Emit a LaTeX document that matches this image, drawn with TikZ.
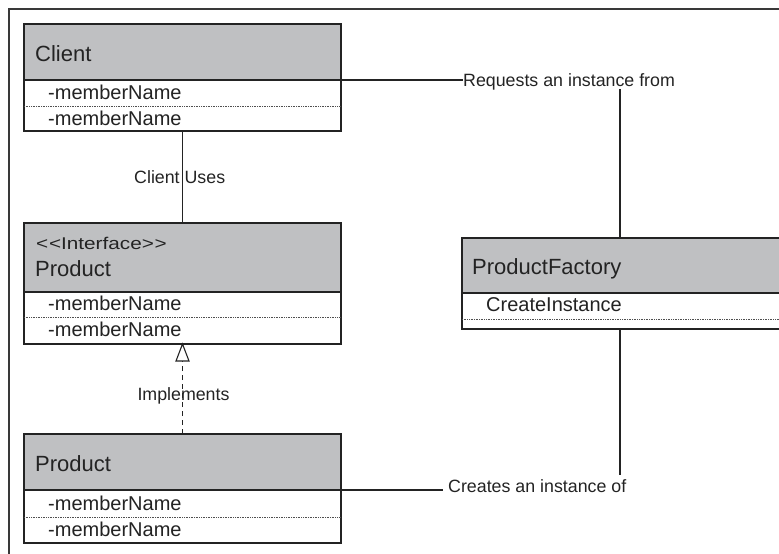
\documentclass[tikz,border=0pt]{standalone}
\usepackage{fontspec}
\usepackage{graphicx}
\setmainfont{Liberation Sans}
\usetikzlibrary{arrows.meta}
\definecolor{hdrgray}{RGB}{191,192,194}
\definecolor{ln}{RGB}{35,35,35}
\begin{document}
\begin{tikzpicture}[x=1pt,y=-1pt,
  boxbody/.style={draw=ln, line width=1.4pt, fill=white, anchor=north west, inner sep=0pt, outer sep=0pt},
  boxhdr/.style={draw=ln, line width=1.4pt, fill=hdrgray, anchor=north west, inner sep=0pt, outer sep=0pt},
  sepline/.style={draw=ln!80, line width=0.8pt, dash pattern=on 0.8pt off 0.9pt},
  ttl/.style={anchor=base west, inner sep=0pt, font=\fontsize{22}{26}\selectfont, text=ln},
  stereo/.style={anchor=base west, inner sep=0pt, font=\fontsize{17}{20}\selectfont, text=ln},
  mem/.style={anchor=base west, inner sep=0pt, font=\fontsize{20}{24}\selectfont, text=ln},
  lbl/.style={anchor=base west, inner sep=0pt, font=\fontsize{17.8}{21}\selectfont, text=ln},
  conn/.style={draw=ln, line width=1.1pt},
  frame/.style={draw=ln!90, line width=1.1pt}
]
\useasboundingbox (0,0) rectangle (779,554);
% outer frame (only top and left edges visible)
\coordinate (frTL) at (9,9);
\coordinate (frTR) at (800,9);
\coordinate (frBL) at (9,570);
\draw[frame] (frTR) -- (frTL) -- (frBL);

% Client
\node[boxbody, minimum width=317pt, minimum height=51pt] (cB) at (24,80) {};
\node[boxhdr, minimum width=317pt, minimum height=56pt] (cH) at (24,24) {};
\draw[sepline] ([yshift=-26pt]cB.north west) -- ([yshift=-26pt]cB.north east);
\node[ttl] (cT) at (35,61.5) {Client};
\node[mem] (cM1) at (48,99) {-memberName};
\node[mem] (cM2) at (48,125) {-memberName};

% Interface Product
\node[boxbody, minimum width=317pt, minimum height=52pt] (iB) at (24,292) {};
\node[boxhdr, minimum width=317pt, minimum height=69pt] (iH) at (24,223) {};
\draw[sepline] ([yshift=-25.5pt]iB.north west) -- ([yshift=-25.5pt]iB.north east);
\node[stereo] (iS) at (36,249.5) {\scalebox{1.22}[1]{<\kern0.6pt<{}Interface>\kern0.6pt>}};
\node[ttl] (iT) at (35,276) {Product};
\node[mem] (iM1) at (48,310) {-memberName};
\node[mem] (iM2) at (48,336.5) {-memberName};

% Concrete Product
\node[boxbody, minimum width=317pt, minimum height=53pt] (pB) at (24,490) {};
\node[boxhdr, minimum width=317pt, minimum height=56pt] (pH) at (24,434) {};
\draw[sepline] ([yshift=-27pt]pB.north west) -- ([yshift=-27pt]pB.north east);
\node[ttl] (pT) at (35,471.5) {Product};
\node[mem] (pM1) at (48,510) {-memberName};
\node[mem] (pM2) at (48,536) {-memberName};

% ProductFactory
\node[boxbody, minimum width=330pt, minimum height=36pt] (fB) at (462,293) {};
\node[boxhdr, minimum width=330pt, minimum height=55pt] (fH) at (462,238) {};
\draw[sepline] ([yshift=-26pt]fB.north west) -- ([yshift=-26pt]fB.north east);
\node[ttl] (fT) at (472,274) {ProductFactory};
\node[mem] (fM1) at (486,311.5) {CreateInstance};

% labels
\node[lbl] (req) at (463,86) {Requests an instance from};
\node[lbl] (cre) at (448,492.7) {Creates an instance of};
\node[lbl] (uses) at (134,183.3) {Client Uses};
\node[lbl] (impl) at (137.3,400) {Implements};

% connectors
\coordinate (reqEnd) at (620,89);
\coordinate (creEnd) at (620,475);
\draw[conn] (cH.south east) -- (cH.south east -| req.west);
\draw[conn] (reqEnd) -- (reqEnd |- fH.north);
\draw[conn] (reqEnd |- fB.south) -- (creEnd);
\draw[conn] (pH.south east) -- ([xshift=-5pt]pH.south east -| cre.west);
\draw[conn] (cB.south) -- (iH.north);
% realization: dashed line with open triangle head
\coordinate (triBase) at ([yshift=-17pt]iB.south);
\draw[conn, dash pattern=on 5pt off 4pt] (pH.north) -- (triBase);
\draw[conn, fill=white, line join=miter] (iB.south) -- ([xshift=-6.5pt]triBase) -- ([xshift=6.5pt]triBase) -- cycle;
\end{tikzpicture}
\end{document}
